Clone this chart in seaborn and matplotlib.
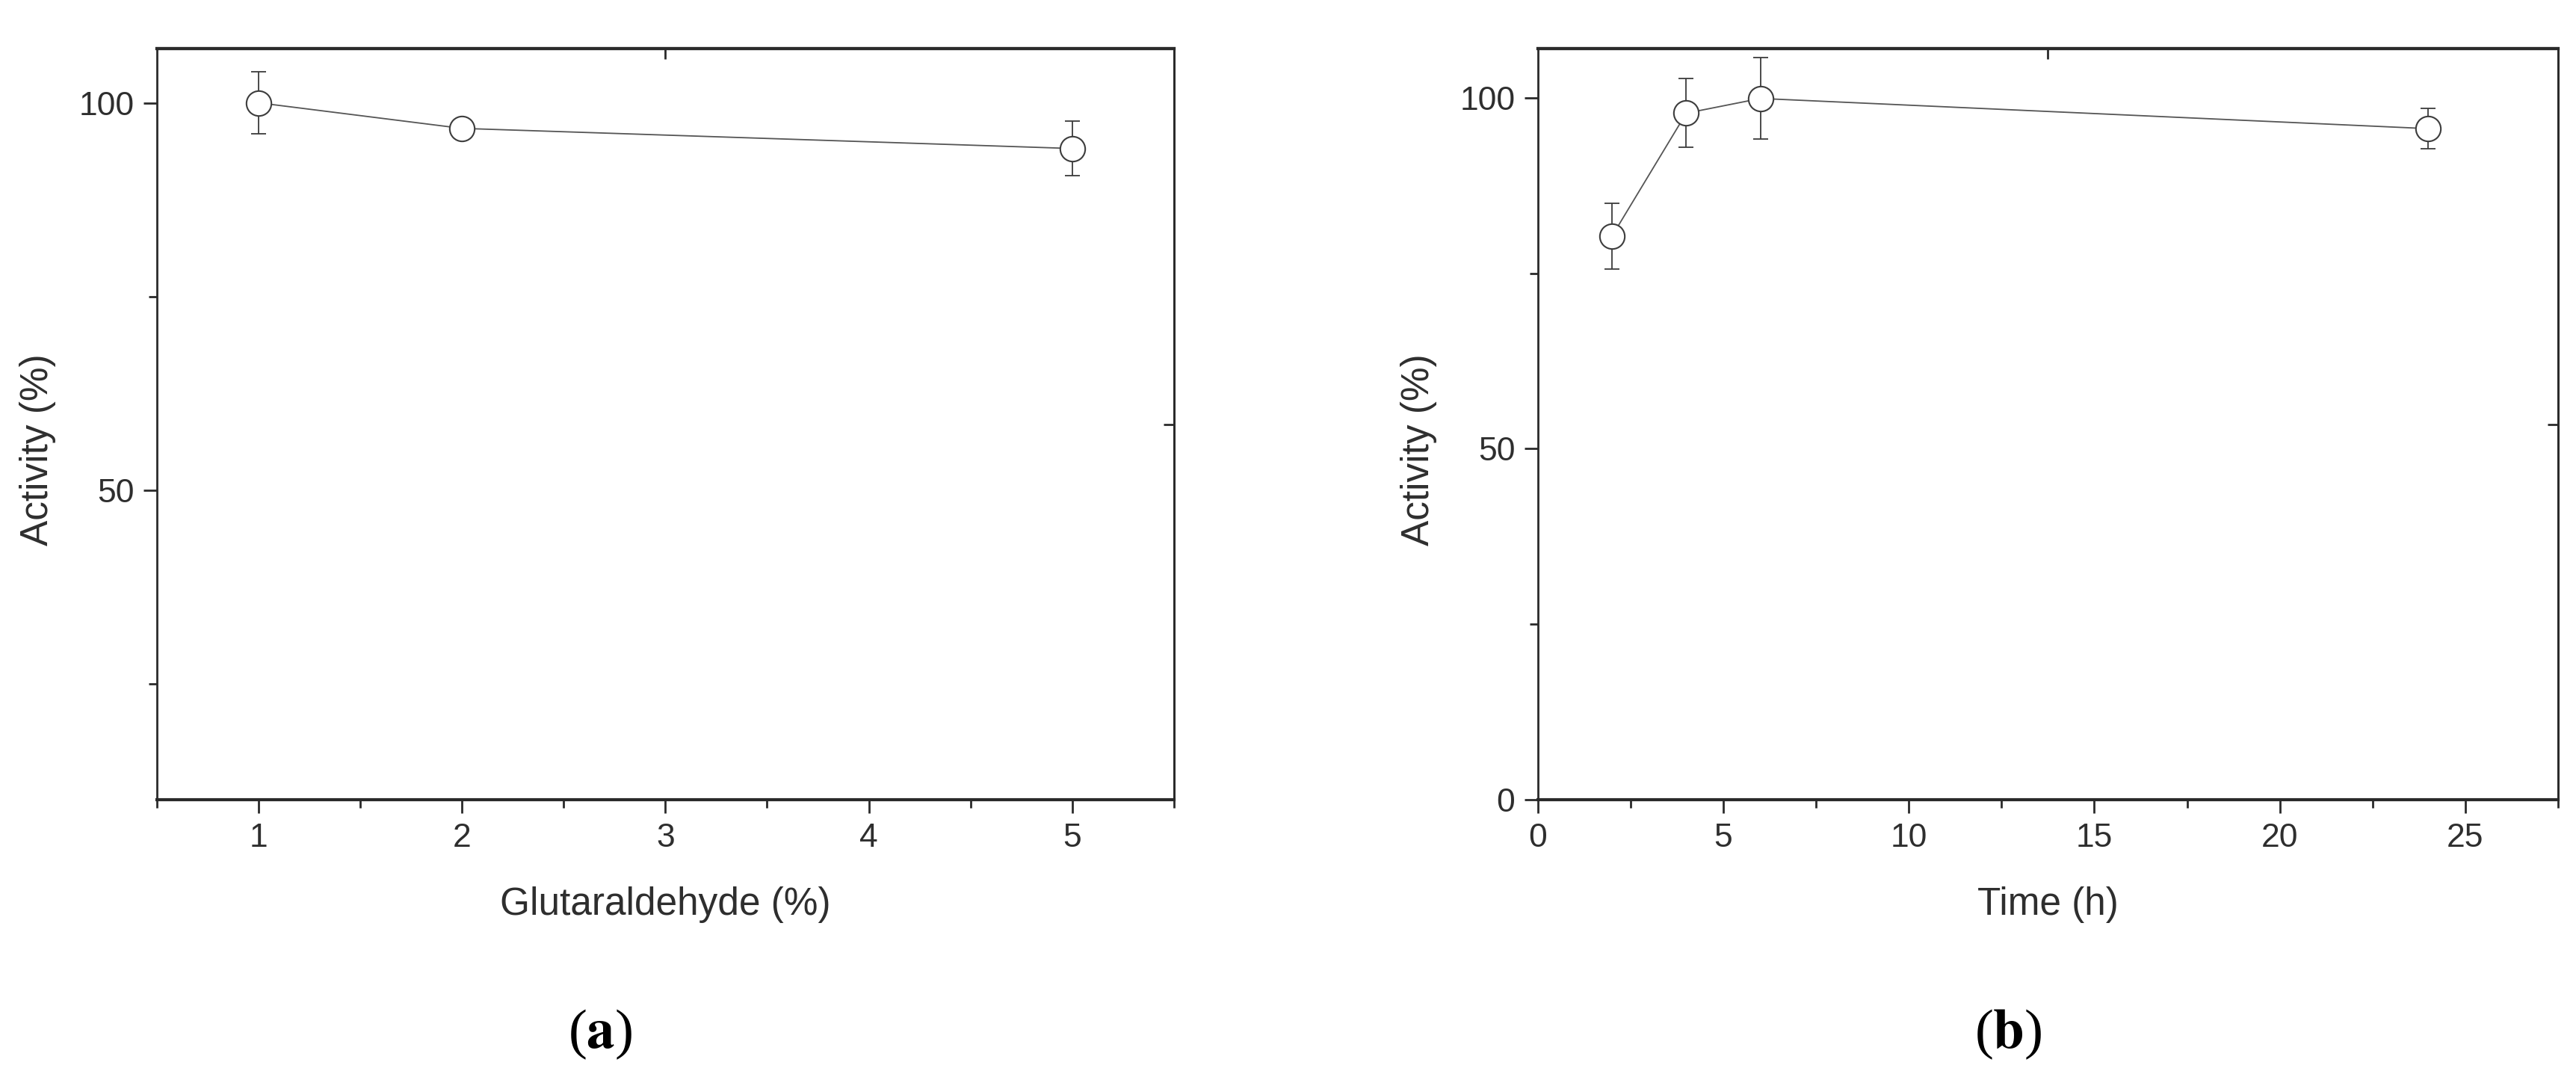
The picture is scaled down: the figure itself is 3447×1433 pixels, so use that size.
import matplotlib
matplotlib.use('Agg')
import matplotlib.pyplot as plt
import seaborn as sns
import pandas as pd
from matplotlib.ticker import MultipleLocator

# panel (a): activity vs glutaraldehyde concentration
glut_pct = [1, 2, 5]
glut_activity = [100.0, 96.7, 94.1]
glut_err = [4.0, 0.8, 3.5]

# panel (b): activity vs crosslinking time
time_h = [2, 4, 6, 24]
time_activity = [80.3, 97.8, 99.9, 95.6]
time_err = [4.7, 4.9, 5.8, 2.9]

sns.set_style('ticks')
plt.rcParams['font.family'] = ['Liberation Sans', 'DejaVu Sans']
plt.rcParams['mathtext.fontset'] = 'stix'

TXT = '#2e2e2e'
EDGE = '#2a2a2a'


def draw_panel(ax, x, y, err, xlabel, xlim, ylim, xmaj, xmin):
    df = pd.DataFrame({'x': x, 'y': y})
    ax.errorbar(x, y, yerr=err, fmt='none', ecolor='#3c3c3c', elinewidth=1.3,
                capsize=7.5, capthick=1.3, zorder=2)
    sns.lineplot(data=df, x='x', y='y', ax=ax, color='#555555', linewidth=1.3,
                 marker='o', markersize=24, markerfacecolor='white',
                 markeredgecolor='#3c3c3c', markeredgewidth=1.5, zorder=3)
    ax.set_xlim(*xlim)
    ax.set_ylim(*ylim)
    ax.xaxis.set_major_locator(MultipleLocator(xmaj))
    ax.xaxis.set_minor_locator(MultipleLocator(xmin))
    ax.yaxis.set_major_locator(MultipleLocator(50))
    ax.yaxis.set_minor_locator(MultipleLocator(25))
    ax.tick_params(which='major', direction='out', length=13, width=2,
                   labelsize=32, pad=9, color=EDGE, labelcolor=TXT)
    ax.tick_params(which='minor', direction='out', length=8, width=2, color=EDGE)
    ax.set_xlabel(xlabel, fontsize=37, color=TXT, labelpad=32)
    ax.set_ylabel('Activity (%)', fontsize=37, color=TXT, labelpad=22, y=0.466)
    for side in ['left', 'right']:
        ax.spines[side].set_linewidth(2.0)
        ax.spines[side].set_color(EDGE)
    for side in ['top', 'bottom']:
        ax.spines[side].set_linewidth(3.0)
        ax.spines[side].set_color(EDGE)

    # origin-style single ticks in the middle of the top and right axes
    top = ax.secondary_xaxis('top')
    top.set_xticks([(xlim[0] + xlim[1]) / 2])
    top.tick_params(direction='in', length=10, width=2, color=EDGE, labeltop=False)
    top.spines['top'].set_linewidth(3.0)
    top.spines['top'].set_color(EDGE)
    right = ax.secondary_yaxis('right')
    right.set_yticks([(ylim[0] + ylim[1]) / 2])
    right.tick_params(direction='in', length=10, width=2, color=EDGE, labelright=False)
    right.spines['right'].set_linewidth(2.0)
    right.spines['right'].set_color(EDGE)


fig = plt.figure(figsize=(34.47, 14.33), dpi=100)
ax_a = fig.add_axes([0.0609, 0.2533, 0.3948, 0.7013])
ax_b = fig.add_axes([0.5970, 0.2533, 0.3960, 0.7013])

draw_panel(ax_a, glut_pct, glut_activity, glut_err, 'Glutaraldehyde (%)',
           (0.5, 5.5), (10, 107), 1, 0.5)
draw_panel(ax_b, time_h, time_activity, time_err, 'Time (h)',
           (0, 27.5), (0, 107), 5, 2.5)

fig.text(0.2330, 0.034, r'($\mathbf{a}$)', fontsize=54, family='Liberation Serif',
         ha='center', va='center', color='black')
fig.text(0.7795, 0.034, r'($\mathbf{b}$)', fontsize=54, family='Liberation Serif',
         ha='center', va='center', color='black')

fig.savefig('out.png', dpi=100, facecolor='white')
